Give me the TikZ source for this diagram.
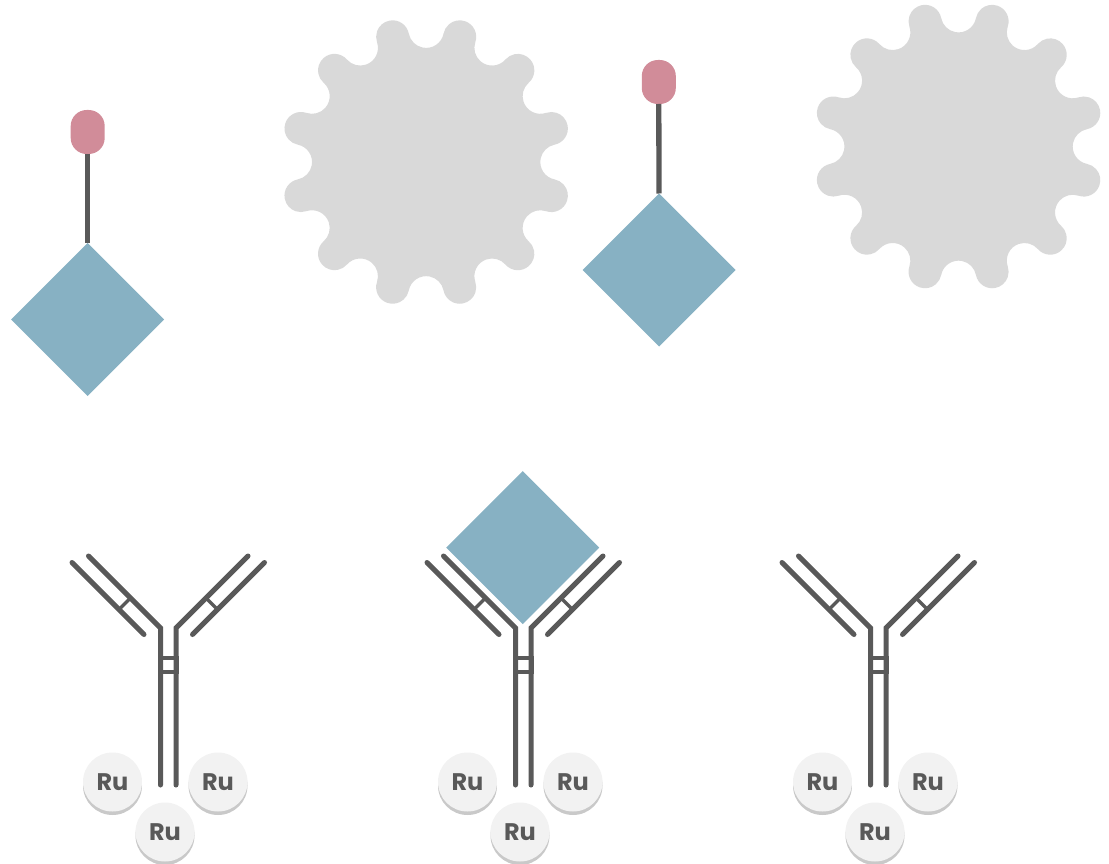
\documentclass[tikz,border=0pt]{standalone}
\usepackage{fontspec}
\usetikzlibrary{shapes.geometric,calc,shadows}
\newfontfamily\rufont{Poppins}
\definecolor{chaingray}{HTML}{595959}
\definecolor{gemblue}{HTML}{87B1C3}
\definecolor{tagpink}{HTML}{D18C99}
\definecolor{gearfill}{HTML}{D9D9D9}
\definecolor{rufill}{HTML}{F2F2F2}
\definecolor{rushade}{HTML}{C9C9C9}

% outline of a cogwheel: 12 round lobes joined by concave valleys
\newcommand\cogoutline[1]{%
  \fill[gearfill] ($(#1)+(15:129.5pt)+(-78.84:16.5pt)$)
    \foreach \t in {15,45,...,345} {
      arc[start angle=\t-93.84, end angle=\t+93.84, radius=16.5pt]
      arc[start angle=\t+273.84, end angle=\t+116.16, radius=17.7pt]
    } -- cycle;}

\begin{document}
\begin{tikzpicture}[x=1pt,y=1pt,
  chain/.style={draw=chaingray, line width=5pt, line cap=round, line join=miter},
  rung/.style={draw=chaingray, line width=3.5pt},
  gem/.style={diamond, fill=gemblue, minimum width=153pt, minimum height=153pt,
    inner sep=0pt, outer sep=0pt},
  tag/.style={rectangle, fill=tagpink, rounded corners=16pt, minimum width=34pt,
    minimum height=44pt, inner sep=0pt, outer sep=0pt},
  stalk/.style={draw=chaingray, line width=5.3pt},
  ru/.style={circle, fill=rufill, minimum size=59pt, inner sep=0pt,
    text=chaingray, font=\rufont\bfseries\fontsize{24}{24}\selectfont,
    general shadow={fill=rushade, shadow xshift=0pt, shadow yshift=-3.5pt}},
  antibody/.pic={
    % heavy chains running into the stem
    \draw[chain] (-79.75,72) -- (-7.75,0) -- (-7.75,-157);
    \draw[chain] (79.75,72) -- (7.75,0) -- (7.75,-157);
    % light chains
    \draw[chain] (-24.25,-6.5) -- (-96.25,65.5);
    \draw[chain] (24.25,-6.5) -- (96.25,65.5);
    % disulfide links
    \draw[rung] (-37.75,30) -- (-49.25,18.5);
    \draw[rung] (37.75,30) -- (49.25,18.5);
    \draw[rung] (-7.75,-30) rectangle (9,-44);
  }]
\useasboundingbox (0,0) rectangle (1109,-864);

% cogwheels
\coordinate (g1) at (426.3,-162);
\coordinate (g2) at (958.7,-146.5);
\cogoutline{g1}
\cogoutline{g2}

% tagged antigens
\node[gem] (d1) at (87.7,-319.5) {};
\node[tag] (p1) at (87.7,-132) {};
\draw[stalk] (p1.south) -- (d1.north);

\node[gem] (d2) at (659,-270) {};
\node[tag] (p2) at (658.8,-82) {};
\draw[stalk] (p2.south) -- (d2.north);

% bound antigen
\node[gem] (d3) at (522.7,-547.7) {};

% antibodies with ruthenium labels
\foreach \cx/\k in {168.25/a, 523.25/b, 878.25/c} {
  \pic at (\cx,-628) {antibody};
  \node[ru] (ru-\k-1) at (\cx-55.75,-782) {Ru};
  \node[ru] (ru-\k-2) at (\cx+49.75,-782) {Ru};
  \node[ru] (ru-\k-3) at (\cx-3.25,-832) {Ru};
}
\end{tikzpicture}
\end{document}
